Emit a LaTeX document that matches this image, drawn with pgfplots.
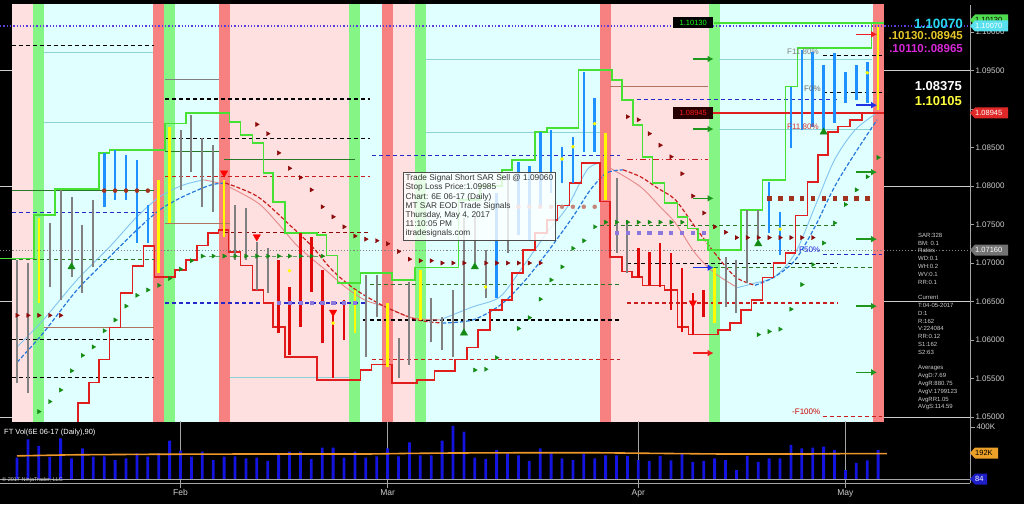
\documentclass[border=0pt]{standalone}
\usepackage{fontspec}
\setmainfont{Liberation Sans}
\usepackage{pgfplots}
\usepackage{pgfplotstable}
\pgfplotsset{compat=1.18}
\usetikzlibrary{arrows.meta}

\definecolor{pinkbg}{RGB}{255,224,224}
\definecolor{cyanbg}{RGB}{224,255,255}
\definecolor{redband}{RGB}{247,129,129}
\definecolor{greenband}{RGB}{133,245,133}
\definecolor{barblue}{RGB}{30,144,255}
\definecolor{bargray}{RGB}{128,128,128}
\definecolor{barred}{RGB}{225,10,10}
\definecolor{baryellow}{RGB}{255,250,0}
\definecolor{sargreen}{RGB}{70,225,50}
\definecolor{sarred}{RGB}{225,30,30}
\definecolor{darkred}{RGB}{140,10,10}
\definecolor{trigreen}{RGB}{20,140,20}
\definecolor{navy2}{RGB}{40,40,200}
\definecolor{volblue}{RGB}{20,20,225}
\definecolor{volorange}{RGB}{235,150,40}
\definecolor{lgray}{RGB}{205,205,205}
\definecolor{axgray}{RGB}{165,165,165}
\definecolor{dotblue}{RGB}{90,60,220}
\definecolor{thincyan}{RGB}{140,210,215}
\definecolor{dkgreen}{RGB}{40,120,40}
\definecolor{brownline}{RGB}{175,115,95}
\definecolor{maslow}{RGB}{40,120,220}
\definecolor{maslowred}{RGB}{200,30,30}
\definecolor{mafast}{RGB}{130,195,240}
\definecolor{mafastred}{RGB}{230,135,135}
\definecolor{arrgreen}{RGB}{30,150,30}
\definecolor{arrred}{RGB}{240,30,30}
\definecolor{arrblue}{RGB}{30,50,230}
\definecolor{brdot}{RGB}{160,50,30}
\definecolor{purpdot}{RGB}{140,120,220}
\definecolor{lblcyan}{RGB}{40,215,240}
\definecolor{lblgold}{RGB}{230,200,40}
\definecolor{lblmag}{RGB}{215,40,215}
\definecolor{lblyel}{RGB}{255,255,60}
\definecolor{taggreen}{RGB}{80,220,80}
\definecolor{tagcyan}{RGB}{90,225,240}
\definecolor{tagred}{RGB}{225,40,40}
\definecolor{taggray}{RGB}{115,115,115}
\definecolor{tagorange}{RGB}{235,160,40}
\definecolor{tagblue}{RGB}{30,30,200}

\newcommand{\band}[3]{\addplot[fill=#3, draw=none, forget plot] coordinates {(#1,1.049) (#2,1.049) (#2,1.104) (#1,1.104)} -- cycle;}
\newcommand{\hl}[4]{\addplot[#4, forget plot] coordinates {(#1,#3) (#2,#3)};}
\tikzset{dsh/.style={dash pattern=on 4pt off 3pt, line width=1.1pt}}

\pgfplotstableread{
i v
0 164000
1 305000
2 254000
3 171000
4 313000
5 159000
6 236000
7 172000
8 175000
9 146000
10 159000
11 198000
12 172000
13 198000
14 295000
15 218000
16 172000
17 210000
18 146000
19 172000
20 175000
21 159000
22 165000
23 140000
24 192000
25 210000
26 210000
27 155000
28 241000
29 241000
30 164000
31 210000
32 164000
33 175000
34 236000
35 175000
36 282000
37 182000
38 182000
39 295000
40 408000
41 364000
42 164000
43 155000
44 223000
45 198000
46 182000
47 140000
48 236000
49 198000
50 159000
51 146000
52 192000
53 159000
54 182000
55 182000
56 178000
57 146000
58 140000
59 178000
60 143000
61 192000
62 132000
63 140000
64 159000
65 146000
66 69000
67 178000
68 132000
69 159000
70 159000
71 262000
72 236000
73 241000
74 249000
75 223000
76 69000
77 125000
78 143000
79 223000
}\voltable

\newcommand{\ptag}[5]{%
  \fill[#2] (970,#1) -- (975,#1+5.5) -- (970+#5,#1+5.5) -- (970+#5,#1-5.5) -- (975,#1-5.5) -- cycle;
  \node[text=#3, font=\fontsize{7.5}{8}\selectfont, anchor=west, inner sep=0] at (975,#1) {#4};}

\begin{document}
\begin{tikzpicture}[x=1pt,y=1pt]
\fill[black] (0,0) rectangle (1024,504);

% ---------------- price panel ----------------
\begin{axis}[at={(0pt,83pt)}, anchor=south west, scale only axis,
  width=970pt, height=416pt,
  xmin=-1.56, xmax=87.43, ymin=1.04948, ymax=1.10351,
  axis x line=none, axis y line*=right,
  axis line style={draw=axgray, line width=0.8pt},
  xtick=\empty,
  ytick={1.05,1.055,1.06,1.065,1.07,1.075,1.08,1.085,1.09,1.095,1.10},
  yticklabels={1.05000,1.05500,1.06000,1.06500,1.07000,1.07500,1.08000,1.08500,,1.09500,1.10000},
  scaled y ticks=false,
  tick style={axgray, line width=0.8pt}, tick align=outside, major tick length=4pt,
  yticklabel style={font=\fontsize{8}{9}\selectfont, text=lgray, xshift=-2pt},
  unbounded coords=jump]

% grid lines visible in black margins
\hl{-1.56}{87.43}{1.05}{lgray, line width=0.7pt}
\hl{-1.56}{87.43}{1.065}{lgray, line width=0.7pt}
\hl{-1.56}{87.43}{1.08}{lgray, line width=0.7pt}
\hl{-1.56}{87.43}{1.095}{lgray, line width=0.7pt}

% background regions
\band{-0.5}{1.5}{pinkbg}
\band{1.5}{2.5}{greenband}
\band{2.5}{12.5}{cyanbg}
\band{12.5}{13.5}{redband}
\band{13.5}{14.5}{greenband}
\band{14.5}{18.5}{cyanbg}
\band{18.5}{19.5}{redband}
\band{19.5}{30.5}{pinkbg}
\band{30.5}{31.5}{greenband}
\band{31.5}{33.5}{cyanbg}
\band{33.5}{34.5}{redband}
\band{34.5}{36.5}{pinkbg}
\band{36.5}{37.5}{greenband}
\band{37.5}{53.5}{cyanbg}
\band{53.5}{54.5}{redband}
\band{54.5}{63.5}{pinkbg}
\band{63.5}{64.5}{greenband}
\band{64.5}{78.5}{cyanbg}
\band{78.5}{79.5}{redband}

% thin level lines
\hl{2.5}{12.5}{1.0973}{thincyan, line width=0.8pt}
\hl{2.5}{12.5}{1.0883}{thincyan, line width=0.8pt}
\hl{37.5}{53.5}{1.0964}{thincyan, line width=0.8pt}
\hl{37.5}{53.5}{1.0869}{thincyan, line width=0.8pt}
\hl{64.4}{78.4}{1.0965}{thincyan, line width=0.8pt}
\hl{64.4}{78.4}{1.0874}{thincyan, line width=0.8pt}
\hl{19.5}{30.5}{1.0552}{thincyan, line width=0.8pt}
\hl{-0.5}{12.6}{1.0794}{dkgreen, line width=0.8pt}
\hl{13.6}{18.5}{1.0845}{dkgreen, line width=0.8pt}
\hl{19}{31}{1.0835}{dkgreen, line width=0.8pt}
\hl{13.6}{18.5}{1.0939}{gray, line width=0.8pt}
\hl{2.5}{12.6}{1.0616}{brownline, line width=0.8pt}
\hl{13.6}{19.5}{1.0751}{brownline, line width=0.8pt}
\hl{54.4}{63.4}{1.0930}{brownline, line width=0.8pt}

% dashed level lines
\hl{-0.5}{12.6}{1.0983}{black, dsh}
\hl{13.6}{32.4}{1.0913}{black, dsh}
\hl{13.6}{32.4}{1.0862}{black, dsh}
\hl{-0.5}{12.6}{1.0601}{black, dsh}
\hl{-0.5}{12.6}{1.0551}{black, dsh}
\hl{31.7}{55.3}{1.0626}{black, dsh}
\hl{56}{75.3}{1.0699}{black, dsh}
\hl{73.9}{79.4}{1.0970}{black, dsh}
\hl{73.9}{79.4}{1.0921}{black, dsh}
\hl{13.6}{32.4}{1.0812}{maslowred, dsh}
\hl{32.6}{55.3}{1.0575}{maslowred, dsh}
\hl{56}{75.3}{1.0648}{maslowred, dsh}
\hl{73.9}{79.4}{1.0501}{maslowred, dsh}
\hl{19}{32.4}{1.0740}{darkred, dsh}
\hl{56}{63.4}{1.0834}{maslowred, dash pattern=on 6pt off 3pt on 1pt off 3pt, line width=1.1pt}
\hl{-0.5}{12.6}{1.0766}{navy2, dsh}
\hl{13.6}{32.2}{1.0648}{navy2, dsh}
\hl{32.6}{55.3}{1.0840}{navy2, dsh}
\hl{55.6}{75.3}{1.0912}{navy2, dsh}
\hl{73.9}{79.4}{1.0711}{navy2, dsh}
\hl{-0.5}{12.6}{1.0704}{dkgreen, dsh}
\hl{32.4}{55.3}{1.0672}{dkgreen, dsh}
\hl{53.5}{75.3}{1.0749}{dkgreen, dsh}
\hl{62}{78.4}{1.0694}{dkgreen, dsh}
\hl{17}{28.5}{1.0709}{dkgreen!70, dsh}

% full-width dotted lines
\hl{-1.56}{87.43}{1.1008}{dotblue, dotted, line width=1.3pt}
\hl{-1.56}{87.43}{1.0716}{gray, dotted, line width=1.1pt}

% moving averages (fast, thin)
\addplot[mafast, line width=0.9pt, smooth] coordinates {(0,1.0591)(2.4,1.0626)(5.5,1.0678)(8.5,1.0721)(11.0,1.0760)(13.1,1.0786)(15.2,1.0801)(17.1,1.0808)};
\addplot[mafastred, line width=0.9pt, smooth] coordinates {(17.1,1.0808)(19.1,1.0801)(22.1,1.0778)(23.9,1.0752)(25.8,1.0721)(28.3,1.0691)(30.1,1.0669)(31.9,1.0652)(33.8,1.0643)(36.2,1.0629)(38.8,1.0626)};
\addplot[mafast, line width=0.9pt, smooth] coordinates {(38.8,1.0626)(41.8,1.0643)(44.3,1.0656)(46.4,1.0695)(48.6,1.0739)(50.5,1.0773)(52.3,1.0821)(53.5,1.0830)};
\addplot[mafastred, line width=0.9pt, smooth] coordinates {(53.5,1.0830)(54.7,1.0821)(57.2,1.0799)(59.0,1.0773)(60.4,1.0752)(62.2,1.0713)(64.0,1.0687)(66.1,1.0668)};
\addplot[mafast, line width=0.9pt, smooth] coordinates {(66.1,1.0668)(67.7,1.0674)(69.5,1.0682)(71.4,1.0713)(73.2,1.0773)(75.0,1.0834)(76.9,1.0873)(78.9,1.0895)};
% moving averages (slow, dashed)
\addplot[maslow, line width=1.2pt, dash pattern=on 4pt off 2pt, smooth] coordinates {(0,1.0571)(2.4,1.0609)(5.5,1.0665)(8.5,1.0708)(11.0,1.0743)(13.1,1.0769)(15.2,1.0786)(17.7,1.0801)(19.1,1.0804)};
\addplot[maslowred, line width=1.2pt, dash pattern=on 4pt off 2pt, smooth] coordinates {(19.1,1.0804)(22.1,1.0786)(25.2,1.0747)(27.1,1.0721)(28.9,1.0691)(30.7,1.0669)(32.6,1.0652)(34.4,1.0639)(36.8,1.0626)(39.0,1.0622)};
\addplot[maslow, line width=1.2pt, dash pattern=on 4pt off 2pt, smooth] coordinates {(39.0,1.0622)(41.8,1.0626)(44.3,1.0645)(46.4,1.0674)(48.6,1.0713)(51.0,1.0760)(52.6,1.0795)(54.1,1.0817)(55.6,1.0821)};
\addplot[maslowred, line width=1.2pt, dash pattern=on 4pt off 2pt, smooth] coordinates {(55.6,1.0821)(57.2,1.0812)(58.8,1.0797)(60.4,1.0782)(62.2,1.0747)(64.0,1.0713)(65.9,1.0682)(67.7,1.0671)};
\addplot[maslow, line width=1.2pt, dash pattern=on 4pt off 2pt, smooth] coordinates {(67.7,1.0671)(69.5,1.0682)(71.4,1.0704)(73.2,1.0747)(75.0,1.0799)(76.9,1.0843)(78.9,1.0886)};

% SAR stop lines
\addplot[sargreen, line width=1.6pt] coordinates {(-1.56,1.0706) (1.56,1.0706) (1.56,1.0762) (3.49,1.0762) (3.49,1.0796) (7.5,1.0796) (7.5,1.0843) (8.5,1.0843) (8.5,1.0847) (13.6,1.0847) (13.6,1.0881) (15.5,1.0881) (15.5,1.0895) (19.5,1.0895) (19.5,1.0883) (20.5,1.0883) (20.5,1.0866) (21.6,1.0866) (21.6,1.0856) (22.6,1.0856) (22.6,1.0817) (23.5,1.0817) (23.5,1.0779) (24.6,1.0779) (24.6,1.0739) (27.5,1.0739) (27.5,1.0736) (28.4,1.0736) (28.4,1.0710) (29.4,1.0710) (29.4,1.0674) (31.5,1.0674) (31.5,1.0687) (34.4,1.0687) (34.4,1.0678) (36.5,1.0678) (36.5,1.0694) (40.5,1.0694) (40.5,1.0782) (42.5,1.0782) (42.5,1.0800) (44.5,1.0800) (44.5,1.0821) (45.4,1.0821) (45.4,1.0834) (47.5,1.0834) (47.5,1.0870) (48.6,1.0870) (48.6,1.0875) (51.5,1.0875) (51.5,1.0951) (54.6,1.0951) (54.6,1.0938) (55.5,1.0938) (55.5,1.0912) (56.5,1.0912) (56.5,1.0879) (57.4,1.0879) (57.4,1.0838) (58.3,1.0838) (58.3,1.0804) (59.4,1.0804) (59.4,1.0778) (60.6,1.0778) (60.6,1.0760) (61.5,1.0760) (61.5,1.0745) (62.5,1.0745) (62.5,1.0730) (63.4,1.0730) (63.4,1.0717) (66.4,1.0717) (66.4,1.0769) (68.4,1.0769) (68.4,1.0808) (70.5,1.0808) (70.5,1.0929) (71.6,1.0929) (71.6,1.0979) (78.4,1.0979) (78.4,1.1012) (79.5,1.1012)};
\hl{63.9}{79.5}{1.1012}{sargreen, line width=1.5pt}
\addplot[sarred, line width=1.5pt] coordinates {(5.6,1.0490) (5.6,1.0518) (6.6,1.0518) (6.6,1.0545) (7.5,1.0545) (7.5,1.0575) (8.5,1.0575) (8.5,1.0616) (9.5,1.0616) (9.5,1.0661) (10.6,1.0661) (10.6,1.0696) (11.6,1.0696) (11.6,1.0722) (12.6,1.0722) (12.6,1.0682) (14.5,1.0682) (14.5,1.0691) (15.5,1.0691) (15.5,1.0704) (16.5,1.0704) (16.5,1.0723) (17.5,1.0723) (17.5,1.0739) (18.5,1.0739) (18.5,1.0743) (19.4,1.0743) (19.4,1.0714) (20.5,1.0714) (20.5,1.0697) (21.6,1.0697) (21.6,1.0665) (22.6,1.0665) (22.6,1.0648) (23.5,1.0648) (23.5,1.0617) (24.6,1.0617) (24.6,1.0578) (27.5,1.0578) (27.5,1.0548) (31.5,1.0548) (31.5,1.0561) (32.5,1.0561) (32.5,1.0568) (34.4,1.0568) (34.4,1.0544) (36.7,1.0544) (36.7,1.0548) (38.3,1.0548) (38.3,1.0560) (40.2,1.0560) (40.2,1.0575) (41.3,1.0575) (41.3,1.0590) (42.3,1.0590) (42.3,1.0613) (43.4,1.0613) (43.4,1.0639) (44.5,1.0639) (44.5,1.0652) (45.4,1.0652) (45.4,1.0687) (46.4,1.0687) (46.4,1.0717) (47.5,1.0717) (47.5,1.0739) (48.6,1.0739) (48.6,1.0756) (49.6,1.0756) (49.6,1.0775) (50.7,1.0775) (50.7,1.0804) (51.8,1.0804) (51.8,1.0830) (53.5,1.0830) (53.5,1.0780) (54.4,1.0780) (54.4,1.0708) (55.5,1.0708) (55.5,1.0689) (56.4,1.0689) (56.4,1.0682) (57.4,1.0682) (57.4,1.0671) (59.4,1.0671) (59.4,1.0665) (60.6,1.0665) (60.6,1.0617) (61.6,1.0617) (61.6,1.0607) (64.3,1.0607) (64.3,1.0613) (65.4,1.0613) (65.4,1.0622) (66.4,1.0622) (66.4,1.0639) (67.4,1.0639) (67.4,1.0652) (68.4,1.0652) (68.4,1.0681) (69.4,1.0681) (69.4,1.0700) (70.5,1.0700) (70.5,1.0713) (71.4,1.0713) (71.4,1.0762) (72.5,1.0762) (72.5,1.0805) (73.5,1.0805) (73.5,1.0840) (74.4,1.0840) (74.4,1.0870) (75.3,1.0870) (75.3,1.0877) (76.4,1.0877) (76.4,1.0886) (77.5,1.0886) (77.5,1.0895) (79.5,1.0895)};
\hl{60.2}{79.5}{1.0895}{sarred, line width=1.5pt}

% price bars (high-low)
\addplot[bargray, line width=2pt] coordinates {(0,1.0544)(0,1.0704)(0,nan) (1,1.0531)(1,1.0700)(1,nan) (3,1.0669)(3,1.0752)(3,nan) (4,1.0652)(4,1.0795)(4,nan) (5,1.0682)(5,1.0786)(5,nan) (6,1.0661)(6,1.0749)(6,nan) (7,1.0695)(7,1.0782)(7,nan) (15,1.0795)(15,1.0873)(15,nan) (16,1.0818)(16,1.0892)(16,nan) (17,1.0773)(17,1.0862)(17,nan) (18,1.0766)(18,1.0853)(18,nan) (20,1.0704)(20,1.0775)(20,nan) (21,1.0704)(21,1.0771)(21,nan) (22,1.0665)(22,1.0727)(22,nan) (23,1.0661)(23,1.0719)(23,nan) (32,1.0578)(32,1.0684)(32,nan) (33,1.0630)(33,1.0684)(33,nan) (35,1.0551)(35,1.0603)(35,nan) (36,1.0568)(36,1.0675)(36,nan) (38,1.0597)(38,1.0655)(38,nan) (39,1.0587)(39,1.0630)(39,nan) (40,1.0578)(40,1.0665)(40,nan) (41,1.0606)(41,1.0758)(41,nan) (42,1.0700)(42,1.0760)(42,nan) (43,1.0655)(43,1.0717)(43,nan) (45,1.0713)(45,1.0808)(45,nan) (55,1.0713)(55,1.0810)(55,nan) (56,1.0687)(56,1.0756)(56,nan) (65,1.0643)(65,1.0708)(65,nan) (66,1.0635)(66,1.0704)(66,nan) (67,1.0674)(67,1.0769)(67,nan) (68,1.0734)(68,1.0769)};
\addplot[barblue, line width=2.6pt] coordinates {(8,1.0773)(8,1.0843)(8,nan) (9,1.0782)(9,1.0847)(9,nan) (10,1.0782)(10,1.0840)(10,nan) (11,1.0726)(11,1.0834)(11,nan) (12,1.0726)(12,1.0775)(12,nan) (44,1.0655)(44,1.0791)(44,nan) (46,1.0736)(46,1.0831)(46,nan) (47,1.0730)(47,1.0826)(47,nan) (48,1.0773)(48,1.0870)(48,nan) (49,1.0791)(49,1.0873)(49,nan) (50,1.0804)(50,1.0851)(50,nan) (51,1.0804)(51,1.0864)(51,nan) (52,1.0844)(52,1.0948)(52,nan) (53,1.0844)(53,1.0914)(53,nan) (69,1.0739)(69,1.0805)(69,nan) (70,1.0710)(70,1.0766)(70,nan) (71,1.0849)(71,1.0929)(71,nan) (72,1.0873)(72,1.0977)(72,nan) (73,1.0877)(73,1.0974)(73,nan) (74,1.0873)(74,1.0957)(74,nan) (75,1.0882)(75,1.0973)(75,nan) (76,1.0908)(76,1.0948)(76,nan) (77,1.0912)(77,1.0957)(77,nan) (78,1.0908)(78,1.0961)};
\addplot[barred, line width=2.6pt] coordinates {(24,1.0609)(24,1.0704)(24,nan) (25,1.0581)(25,1.0669)(25,nan) (26,1.0617)(26,1.0739)(26,nan) (27,1.0662)(27,1.0734)(27,nan) (28,1.0596)(28,1.0691)(28,nan) (29,1.0551)(29,1.0639)(29,nan) (30,1.0600)(30,1.0652)(30,nan) (57,1.0681)(57,1.0719)(57,nan) (58,1.0671)(58,1.0714)(58,nan) (59,1.0669)(59,1.0726)(59,nan) (60,1.0639)(60,1.0713)(60,nan) (61,1.0610)(61,1.0694)(61,nan) (62,1.0606)(62,1.0661)(62,nan) (63,1.0630)(63,1.0665)};
\addplot[baryellow, line width=2.6pt] coordinates {(2,1.0648)(2,1.0758)(2,nan) (13,1.0687)(13,1.0808)(13,nan) (14,1.0752)(14,1.0877)(14,nan) (19,1.0734)(19,1.0808)(19,nan) (31,1.0609)(31,1.0665)(31,nan) (34,1.0565)(34,1.0648)(34,nan) (37,1.0626)(37,1.0691)(37,nan) (54,1.0782)(54,1.0869)(54,nan) (64,1.0622)(64,1.0694)(64,nan) (79,1.0899)(79,1.1007)};

% SAR dots (right-pointing triangles)
\addplot[only marks, mark=triangle*, mark size=2.4pt, mark options={rotate=-90, fill=darkred, draw=darkred}] coordinates {(0,1.0632)(1,1.0632)(2,1.0632)(3,1.0632)(4,1.0632) (22,1.0880)(23,1.0868)(24,1.0843)(25,1.0823)(26,1.0811)(27,1.0795)(28,1.0773)(29,1.0760)(30,1.0747)(31,1.0735)(32,1.0731)(33,1.0729)(34,1.0725)(35,1.0715)(36,1.0705)(37,1.0703)(38,1.0703)(39,1.0700)(40,1.0700)(41,1.0700)(43,1.0700)(44,1.0700)(45,1.0700)(46,1.0700)(47,1.0700)(48,1.0700) (56,1.0890)(57,1.0886)(58,1.0868)(59,1.0853)(60,1.0838)(61,1.0816)(62,1.0787)(63,1.0765)(64,1.0747)(65,1.0740)(66,1.0733)(67,1.0733)(68,1.0733)(69,1.0733)(70,1.0733)(71,1.0733)(72,1.0733)(73,1.0733)};
\addplot[only marks, mark=triangle*, mark size=2.4pt, mark options={rotate=-90, fill=trigreen, draw=trigreen}] coordinates {(2,1.0507)(3,1.0520)(4,1.0535)(5,1.0560)(6,1.0580)(7,1.0591)(8,1.0612)(9,1.0626)(10,1.0644)(11,1.0658)(12,1.0665)(13,1.0671)(14,1.0680)(15,1.0692)(16,1.0703)(17,1.0709)(18,1.0709)(19,1.0709)(20,1.0709)(21,1.0709)(22,1.0709)(23,1.0709)(24,1.0709)(25,1.0709)(26,1.0709)(27,1.0709)(28,1.0709) (42,1.0561)(43,1.0562)(44,1.0577)(46,1.0615)(47,1.0629)(48,1.0653)(49,1.0678)(50,1.0695)(51,1.0719)(52,1.0729)(53,1.0747)(54,1.0753)(55,1.0753)(56,1.0753)(57,1.0753)(58,1.0753)(59,1.0753)(60,1.0753)(61,1.0753) (68,1.0607)(69,1.0611)(70,1.0614)(71,1.0640)(72,1.0672)(73,1.0698)(74,1.0726)(75,1.0752)(76,1.0776)(77,1.0795)(78,1.0812)(79,1.0837)};

% level dots
\addplot[only marks, mark=*, mark size=2pt, brdot] coordinates {(8,1.0794)(9,1.0794)(10,1.0794)(11,1.0794)(12,1.0794)};
\addplot[only marks, mark=*, mark size=2pt, brdot!60] coordinates {(46,1.0773)(47,1.0773)(48,1.0773)(49,1.0773)(50,1.0773)(51,1.0773)(52,1.0773)(53,1.0773)};
\addplot[only marks, mark=square*, mark size=1.8pt, brdot] coordinates {(69,1.0784)(70,1.0784)(71,1.0784)(72,1.0784)(73,1.0784)(74,1.0784)(75,1.0784)(76,1.0784)(77,1.0784)(78,1.0784)};
\addplot[only marks, mark=square*, mark size=1.6pt, purpdot] coordinates {(55,1.0739)(56,1.0739)(57,1.0739)(58,1.0739)(59,1.0739)(60,1.0739)(61,1.0739)(62,1.0739)(63,1.0739)(24,1.0648)(25,1.0648)(26,1.0648)(27,1.0648)(28,1.0648)(29,1.0648)(30,1.0648)(31,1.0648)};
\addplot[only marks, mark=*, mark size=1.6pt, baryellow] coordinates {(25,1.0690)(29,1.0622)(43,1.0669)(50,1.0835)(51,1.0851)(53,1.0881)(70,1.0744)(78,1.0947)};

% signal triangles
\addplot[only marks, mark=triangle*, mark size=4.2pt, mark options={rotate=180, fill=red, draw=red}] coordinates {(19,1.0817)(22,1.0734)(29,1.0636)(62,1.0648)};
\addplot[only marks, mark=triangle*, mark size=4.2pt, mark options={fill=trigreen, draw=trigreen}] coordinates {(5,1.0695)(41,1.0609)(42,1.0695)(68,1.0725)(74,1.0870)};

% signal arrows
\addplot[arrgreen, line width=1.6pt, quiver={u=1.9,v=0}, -{Latex[length=6pt,width=7pt]}] coordinates {(62,1.0965) (62,1.0874) (62,1.0784) (77,1.0818) (77,1.0731) (77,1.0644) (77,1.0558)};
\addplot[arrred, line width=1.6pt, quiver={u=1.9,v=0}, -{Latex[length=6pt,width=7pt]}] coordinates {(62,1.0583) (77,1.0997)};
\addplot[arrblue, line width=1.6pt, quiver={u=1.9,v=0}, -{Latex[length=6pt,width=7pt]}] coordinates {(62,1.0694) (77,1.0905)};
\end{axis}

% ---------------- volume panel ----------------
\begin{axis}[at={(0pt,21pt)}, anchor=south west, scale only axis,
  width=970pt, height=62pt,
  xmin=-1.56, xmax=87.43, ymin=-30769, ymax=446154,
  axis x line*=bottom, axis y line*=right,
  axis line style={draw=axgray, line width=0.8pt},
  xtick={15,34,57,76}, xticklabels={Feb,Mar,Apr,May},
  xmajorgrids, grid style={axgray, line width=0.8pt},
  ytick={400000}, yticklabels={400K}, scaled y ticks=false,
  tick style={axgray, line width=0.8pt}, tick align=outside, major tick length=5pt,
  xticklabel style={font=\fontsize{8.5}{9}\selectfont, text=lgray, inner sep=1pt},
  yticklabel style={font=\fontsize{8}{9}\selectfont, text=lgray, xshift=-2pt}]
\addplot[ybar, bar width=2.8pt, fill=volblue, draw=none] table[x=i, y=v] {\voltable};
\addplot[axgray, line width=0.8pt] coordinates {(-1.56,0) (87.43,0)};
\addplot[volorange, line width=1.6pt] coordinates {(0,178000) (5,186000) (12,190000) (20,192000) (32,192000) (36,197000) (40,200000) (47,202000) (53,202000) (60,196000) (65,192000) (72,192000) (76,195000) (79.8,195000)};
\end{axis}

% ---------------- texts ----------------
\node[draw=gray!60!black, fill=white, fill opacity=0.8, text opacity=1, anchor=north west, align=left, inner sep=2.5pt, font=\fontsize{8.3}{9.2}\selectfont, text=black!80] at (403,332) {Trade Signal Short SAR Sell @ 1.09060\\Stop Loss Price:1.09985\\Chart: 6E 06-17 (Daily)\\MT SAR EOD Trade Signals\\Thursday, May 4, 2017\\11:10:05 PM\\itradesignals.com};

\node[fill=black, text=green!90!white, font=\fontsize{7.5}{8}\selectfont, minimum width=40pt, minimum height=11pt, inner sep=0, anchor=west] at (673,481.5) {1.10130};
\node[fill=black!85!red, text=red!90!white, font=\fontsize{7.5}{8}\selectfont, minimum width=40pt, minimum height=12pt, inner sep=0, anchor=west] at (673,391) {1.08945};

\node[anchor=west, text=gray, font=\fontsize{8}{9}\selectfont, inner sep=0] at (787,452) {F11.80\%};
\node[anchor=west, text=gray!80!black, font=\fontsize{8}{9}\selectfont, inner sep=0] at (804,415) {F0\%};
\node[anchor=west, text=red!60!gray, font=\fontsize{8}{9}\selectfont, inner sep=0] at (787,377) {F11.80\%};
\node[anchor=west, text=blue!70!gray, font=\fontsize{8}{9}\selectfont, inner sep=0] at (799,254) {F50\%};
\node[anchor=west, text=red!80!black, font=\fontsize{8}{9}\selectfont, inner sep=0] at (792,92) {-F100\%};

% right side labels
\node[anchor=east, text=lblcyan, font=\bfseries\fontsize{13.5}{14}\selectfont, inner sep=0] at (963,480) {1.10070};
\node[anchor=east, text=lblgold, font=\bfseries\fontsize{11.5}{12}\selectfont, inner sep=0] at (963,468) {.10130:.08945};
\node[anchor=east, text=lblmag, font=\bfseries\fontsize{11.5}{12}\selectfont, inner sep=0] at (963,455) {.10110:.08965};
\node[anchor=east, text=white, font=\bfseries\fontsize{13}{14}\selectfont, inner sep=0] at (962,418) {1.08375};
\node[anchor=east, text=lblyel, font=\bfseries\fontsize{13}{14}\selectfont, inner sep=0] at (962,403) {1.10105};

\node[anchor=north west, align=left, text=lgray, font=\fontsize{6}{7.8}\selectfont, inner sep=0] at (918,271) {SAR:328\\BM: 0.1\\Ratios\\WD:0.1\\WH:0.2\\WV:0.1\\RR:0.1\\[7.8pt]Current\\T:04-05-2017\\D:1\\R:162\\V:224084\\RR:0.12\\S1:162\\S2:63\\[7.8pt]Averages\\AvgD:7.69\\AvgR:880.75\\AvgV:1799123\\AvgRR1.05\\AVgS:114.59};

% price tags on the axis
\ptag{484}{taggreen}{black}{1.10130}{38}
\ptag{478}{tagcyan}{white}{1.10070}{38}
\ptag{391}{tagred}{white}{1.08945}{38}
\ptag{254}{taggray}{white}{1.07160}{38}
\ptag{51}{tagorange}{black}{192K}{28}
\ptag{25}{tagblue}{white}{84}{17}

\node[anchor=west, text=white, font=\fontsize{7.5}{8}\selectfont, inner sep=0] at (4,71) {FT Vol(6E 06-17 (Daily),90)};
\node[anchor=west, text=lgray, font=\fontsize{5.5}{6}\selectfont, inner sep=0] at (2,24) {\textcopyright{} 2017 NinjaTrader, LLC};

\pgfresetboundingbox
\path (0,0) rectangle (1024,504);
\end{tikzpicture}
\end{document}
